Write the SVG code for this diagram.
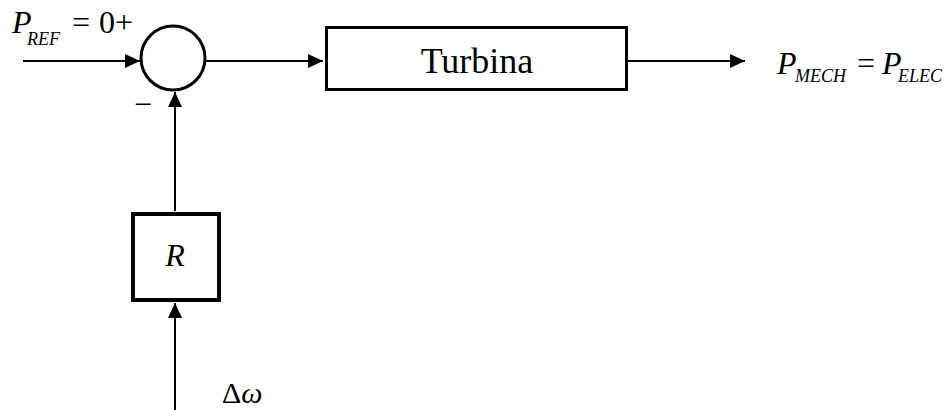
<svg xmlns="http://www.w3.org/2000/svg" width="947" height="410" viewBox="0 0 947 410">
  <style>
    text { font-family: "Liberation Serif", "Times New Roman", serif; fill: #000; }
    .i { font-style: italic; }
    .m { font-size: 32px; }
    .s { font-size: 18px; font-style: italic; }
    .blk { fill: #fff; stroke: #000; }
    .ln { fill: none; stroke: #000; stroke-width: 2; marker-end: url(#ah); }
  </style>
  <defs>
    <marker id="ah" viewBox="0 0 15 14" refX="15" refY="7" markerWidth="15" markerHeight="14" markerUnits="userSpaceOnUse" orient="auto">
      <path d="M0,0 L15,7 L0,14 z" fill="#000"/>
    </marker>
  </defs>
  <rect width="947" height="410" fill="#fff"/>

  <g id="connectors">
    <line class="ln" x1="23" y1="61" x2="140" y2="61"/>
    <line class="ln" x1="205" y1="61" x2="323" y2="61"/>
    <line class="ln" x1="628" y1="61" x2="745" y2="61"/>
    <line class="ln" x1="175" y1="211" x2="175" y2="92"/>
    <line class="ln" x1="175" y1="410" x2="175" y2="303"/>
  </g>

  <g id="sum">
    <circle class="blk" cx="173" cy="58" r="32" stroke-width="3"/>
  </g>

  <g id="turbina">
    <rect class="blk" x="326.5" y="27.5" width="300" height="62" stroke-width="3"/>
    <text x="477" y="73" font-size="36" text-anchor="middle">Turbina</text>
  </g>

  <g id="R">
    <rect class="blk" x="133" y="214" width="86" height="86" stroke-width="4"/>
    <text class="m i" x="175" y="266" text-anchor="middle">R</text>
  </g>

  <g id="labels">
    <text class="m i" x="12" y="33">P</text>
    <text class="s" x="27" y="45">REF</text>
    <text class="m" x="72" y="33">=</text>
    <text class="m" x="99" y="33">0+</text>

    <text class="m" x="134" y="115">−</text>

    <text class="m i" x="777" y="74">P</text>
    <text class="s" x="795" y="82">MECH</text>
    <text class="m" x="857" y="74">=</text>
    <text class="m i" x="882" y="74">P</text>
    <text class="s" x="898" y="82">ELEC</text>

    <text x="222" y="403" font-size="30">Δ<tspan class="i">ω</tspan></text>
  </g>
</svg>
